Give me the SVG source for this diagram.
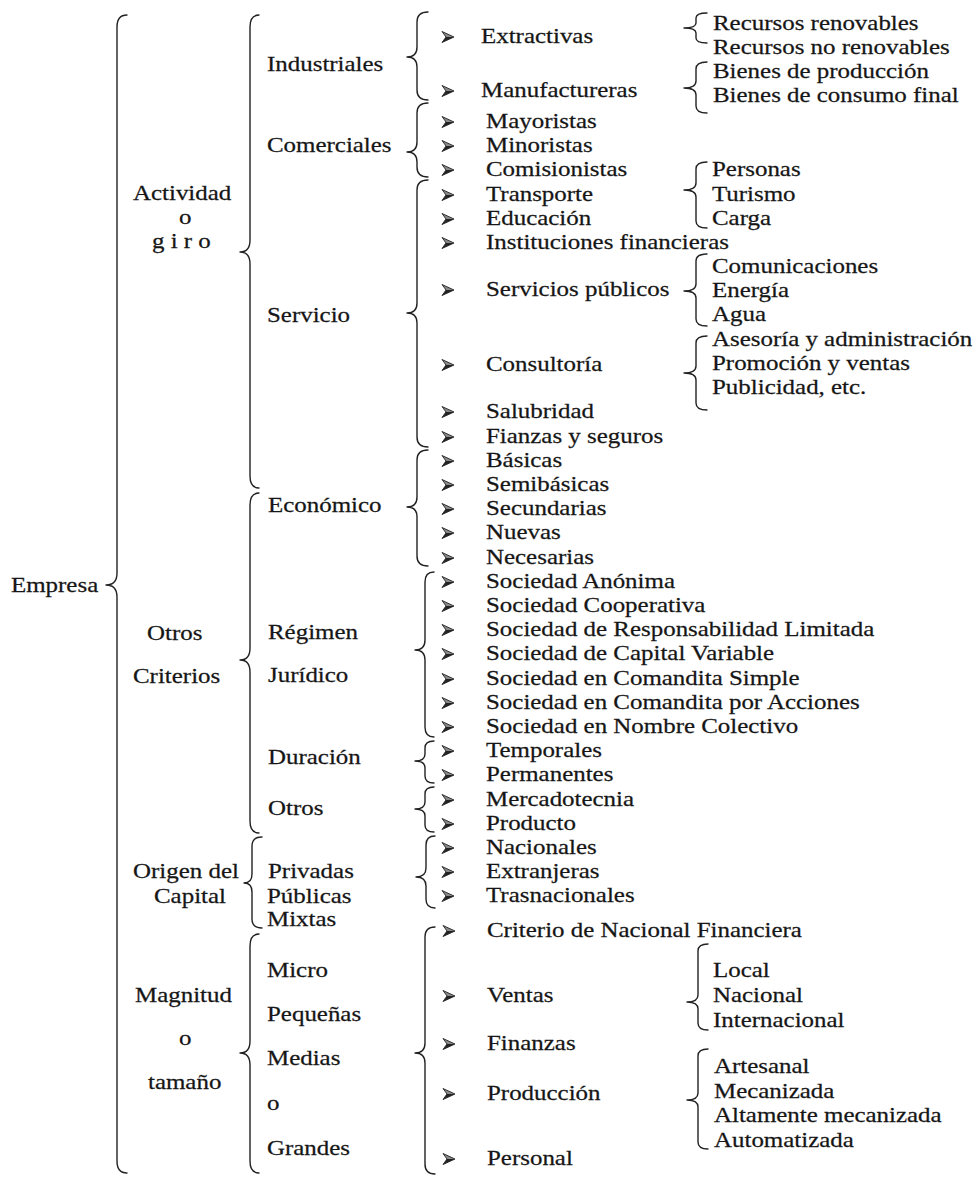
<svg xmlns="http://www.w3.org/2000/svg" xmlns:xlink="http://www.w3.org/1999/xlink" width="979" height="1177" viewBox="0 0 979 1177">
  <style>
    text { font-family: "Liberation Serif", "Times New Roman", serif; font-size: 21.5px; fill: #161616; stroke: #161616; stroke-width: 0.25; }
    .brace { fill: none; stroke: #222; stroke-width: 1.4; stroke-linecap: round; stroke-linejoin: round; }
    .bul-dark { fill: #222; }
    .bul-light { fill: #8a8a8a; }
  </style>
  <defs>
    <!-- three-dimensional arrowhead bullet used in front of list items -->
    <g id="bul">
      <path class="bul-light" d="M0 -5.5 L12 0 L4 0 Z"/>
      <path class="bul-dark" d="M0 5.5 L12 0 L4 0 Z"/>
      <path fill="none" stroke="#222" stroke-width="0.9" stroke-linejoin="round" d="M0 -5.5 L12 0 L0 5.5 L4 0 Z"/>
    </g>
  </defs>
  <rect width="979" height="1177" fill="#ffffff"/>

  <!-- curly braces joining each level to the next -->
  <g id="braces">
    <path class="brace" d="M127 15 Q117 15 117 27 L117 573 Q117 585 106 585 Q117 585 117 597 L117 1161 Q117 1173 127 1173"/>
    <path class="brace" d="M259 15 Q250 15 250 27 L250 240 Q250 252 240 252 Q250 252 250 264 L250 476 Q250 488 259 488"/>
    <path class="brace" d="M259 493 Q250 493 250 505 L250 648 Q250 660 240 660 Q250 660 250 672 L250 821 Q250 833 259 833"/>
    <path class="brace" d="M262 837 Q252 837 252 846 L252 874 Q252 883 244 883 Q252 883 252 892 L252 919 Q252 928 262 928"/>
    <path class="brace" d="M259 934 Q250 934 250 946 L250 1041 Q250 1053 240 1053 Q250 1053 250 1065 L250 1161 Q250 1173 259 1173"/>

    <path class="brace" d="M428 12 Q417 12 417 22 L417 47 Q417 57 407 57 Q417 57 417 67 L417 90 Q417 100 428 100"/>
    <path class="brace" d="M428 103 Q417 103 417 113 L417 142 Q417 152 407 152 Q417 152 417 162 L417 167 Q417 177 428 177"/>
    <path class="brace" d="M428 180 Q417 180 417 190 L417 303 Q417 313 407 313 Q417 313 417 323 L417 437 Q417 447 428 447"/>
    <path class="brace" d="M428 450 Q417 450 417 460 L417 497 Q417 507 407 507 Q417 507 417 517 L417 556 Q417 566 428 566"/>
    <path class="brace" d="M434 572 Q425 572 425 582 L425 640 Q425 650 415 650 Q425 650 425 660 L425 727 Q425 737 434 737"/>
    <path class="brace" d="M434 741 Q425 741 425 748 L425 754 Q425 761 415 761 Q425 761 425 768 L425 776 Q425 783 434 783"/>
    <path class="brace" d="M434 787 Q425 787 425 794 L425 802 Q425 809 415 809 Q425 809 425 816 L425 825 Q425 832 434 832"/>
    <path class="brace" d="M435 836 Q426 836 426 845 L426 868 Q426 877 416 877 Q426 877 426 886 L426 899 Q426 908 435 908"/>
    <path class="brace" d="M435 927 Q425 927 425 937 L425 1043 Q425 1053 415 1053 Q425 1053 425 1063 L425 1164 Q425 1174 435 1174"/>

    <path class="brace" d="M707 13 Q696 13 696 18 L696 23 Q696 28 684 28 Q696 28 696 33 L696 38 Q696 43 707 43"/>
    <path class="brace" d="M707 62 Q696 62 696 69 L696 81 Q696 88 684 88 Q696 88 696 95 L696 106 Q696 113 707 113"/>
    <path class="brace" d="M707 162 Q696 162 696 169 L696 183 Q696 190 684 190 Q696 190 696 197 L696 221 Q696 228 707 228"/>
    <path class="brace" d="M707 254 Q696 254 696 261 L696 284 Q696 291 684 291 Q696 291 696 298 L696 319 Q696 326 707 326"/>
    <path class="brace" d="M707 336 Q696 336 696 343 L696 366 Q696 373 684 373 Q696 373 696 380 L696 403 Q696 410 707 410"/>
    <path class="brace" d="M708 944 Q698 944 698 951 L698 995 Q698 1002 687 1002 Q698 1002 698 1009 L698 1023 Q698 1030 708 1030"/>
    <path class="brace" d="M708 1049 Q698 1049 698 1056 L698 1093 Q698 1100 687 1100 Q698 1100 698 1107 L698 1142 Q698 1149 708 1149"/>
  </g>

  <!-- root -->
  <g id="n-empresa"><text transform="translate(11 592) scale(1.16 1)">Empresa</text></g>

  <!-- first level -->
  <g id="n-actividad">
    <text transform="translate(133 200) scale(1.16 1)">Actividad</text>
    <text transform="translate(179 224) scale(1.16 1)">o</text>
    <text transform="translate(152 248) scale(1.16 1)">g i r o</text>
  </g>
  <g id="n-otros-criterios">
    <text transform="translate(147 640) scale(1.16 1)">Otros</text>
    <text transform="translate(133 683) scale(1.16 1)">Criterios</text>
  </g>
  <g id="n-origen">
    <text transform="translate(133 878) scale(1.16 1)">Origen del</text>
    <text transform="translate(154 903) scale(1.16 1)">Capital</text>
  </g>
  <g id="n-magnitud">
    <text transform="translate(135 1002) scale(1.16 1)">Magnitud</text>
    <text transform="translate(179 1045) scale(1.16 1)">o</text>
    <text transform="translate(148 1089) scale(1.16 1)">tamaño</text>
  </g>

  <!-- second level -->
  <g id="n-industriales"><text transform="translate(267 71) scale(1.16 1)">Industriales</text></g>
  <g id="n-comerciales"><text transform="translate(267 152) scale(1.16 1)">Comerciales</text></g>
  <g id="n-servicio"><text transform="translate(267 322) scale(1.16 1)">Servicio</text></g>
  <g id="n-economico"><text transform="translate(268 512) scale(1.16 1)">Económico</text></g>
  <g id="n-regimen">
    <text transform="translate(268 639) scale(1.16 1)">Régimen</text>
    <text transform="translate(268 682) scale(1.16 1)">Jurídico</text>
  </g>
  <g id="n-duracion"><text transform="translate(268 764) scale(1.16 1)">Duración</text></g>
  <g id="n-otros"><text transform="translate(268 815) scale(1.16 1)">Otros</text></g>
  <g id="n-privadas"><text transform="translate(268 878) scale(1.16 1)">Privadas</text></g>
  <g id="n-publicas"><text transform="translate(267 903) scale(1.16 1)">Públicas</text></g>
  <g id="n-mixtas"><text transform="translate(267 926) scale(1.16 1)">Mixtas</text></g>
  <g id="n-tamanos">
    <text transform="translate(267 977) scale(1.16 1)">Micro</text>
    <text transform="translate(267 1021) scale(1.16 1)">Pequeñas</text>
    <text transform="translate(267 1065) scale(1.16 1)">Medias</text>
    <text transform="translate(267 1110) scale(1.16 1)">o</text>
    <text transform="translate(267 1155) scale(1.16 1)">Grandes</text>
  </g>

  <!-- third level: bulleted items -->
  <g id="n-extractivas"><use href="#bul" x="442" y="37"/><text transform="translate(481 43) scale(1.16 1)">Extractivas</text></g>
  <g id="n-manufactureras"><use href="#bul" x="442" y="91"/><text transform="translate(481 97) scale(1.16 1)">Manufactureras</text></g>
  <g id="n-mayoristas"><use href="#bul" x="442" y="122"/><text transform="translate(486 128) scale(1.16 1)">Mayoristas</text></g>
  <g id="n-minoristas"><use href="#bul" x="442" y="146"/><text transform="translate(486 152) scale(1.16 1)">Minoristas</text></g>
  <g id="n-comisionistas"><use href="#bul" x="442" y="170"/><text transform="translate(486 176) scale(1.16 1)">Comisionistas</text></g>
  <g id="n-transporte"><use href="#bul" x="442" y="195"/><text transform="translate(486 201) scale(1.16 1)">Transporte</text></g>
  <g id="n-educacion"><use href="#bul" x="442" y="219"/><text transform="translate(486 225) scale(1.16 1)">Educación</text></g>
  <g id="n-instituciones"><use href="#bul" x="442" y="243"/><text transform="translate(486 249) scale(1.16 1)">Instituciones financieras</text></g>
  <g id="n-serv-publicos"><use href="#bul" x="442" y="290"/><text transform="translate(486 296) scale(1.16 1)">Servicios públicos</text></g>
  <g id="n-consultoria"><use href="#bul" x="442" y="365"/><text transform="translate(486 371) scale(1.16 1)">Consultoría</text></g>
  <g id="n-salubridad"><use href="#bul" x="442" y="412"/><text transform="translate(486 418) scale(1.16 1)">Salubridad</text></g>
  <g id="n-fianzas"><use href="#bul" x="442" y="437"/><text transform="translate(486 443) scale(1.16 1)">Fianzas y seguros</text></g>
  <g id="n-basicas"><use href="#bul" x="442" y="461"/><text transform="translate(486 467) scale(1.16 1)">Básicas</text></g>
  <g id="n-semibasicas"><use href="#bul" x="442" y="485"/><text transform="translate(486 491) scale(1.16 1)">Semibásicas</text></g>
  <g id="n-secundarias"><use href="#bul" x="442" y="509"/><text transform="translate(486 515) scale(1.16 1)">Secundarias</text></g>
  <g id="n-nuevas"><use href="#bul" x="442" y="533"/><text transform="translate(486 539) scale(1.16 1)">Nuevas</text></g>
  <g id="n-necesarias"><use href="#bul" x="442" y="558"/><text transform="translate(486 564) scale(1.16 1)">Necesarias</text></g>
  <g id="n-sa"><use href="#bul" x="442" y="582"/><text transform="translate(486 588) scale(1.16 1)">Sociedad Anónima</text></g>
  <g id="n-sc"><use href="#bul" x="442" y="606"/><text transform="translate(486 612) scale(1.16 1)">Sociedad Cooperativa</text></g>
  <g id="n-srl"><use href="#bul" x="442" y="630"/><text transform="translate(486 636) scale(1.16 1)">Sociedad de Responsabilidad Limitada</text></g>
  <g id="n-scv"><use href="#bul" x="442" y="654"/><text transform="translate(486 660) scale(1.16 1)">Sociedad de Capital Variable</text></g>
  <g id="n-scs"><use href="#bul" x="442" y="679"/><text transform="translate(486 685) scale(1.16 1)">Sociedad en Comandita Simple</text></g>
  <g id="n-sca"><use href="#bul" x="442" y="703"/><text transform="translate(486 709) scale(1.16 1)">Sociedad en Comandita por Acciones</text></g>
  <g id="n-snc"><use href="#bul" x="442" y="727"/><text transform="translate(486 733) scale(1.16 1)">Sociedad en Nombre Colectivo</text></g>
  <g id="n-temporales"><use href="#bul" x="442" y="751"/><text transform="translate(486 757) scale(1.16 1)">Temporales</text></g>
  <g id="n-permanentes"><use href="#bul" x="442" y="775"/><text transform="translate(486 781) scale(1.16 1)">Permanentes</text></g>
  <g id="n-mercadotecnia"><use href="#bul" x="442" y="800"/><text transform="translate(486 806) scale(1.16 1)">Mercadotecnia</text></g>
  <g id="n-producto"><use href="#bul" x="442" y="824"/><text transform="translate(486 830) scale(1.16 1)">Producto</text></g>
  <g id="n-nacionales"><use href="#bul" x="442" y="848"/><text transform="translate(486 854) scale(1.16 1)">Nacionales</text></g>
  <g id="n-extranjeras"><use href="#bul" x="442" y="872"/><text transform="translate(486 878) scale(1.16 1)">Extranjeras</text></g>
  <g id="n-trasnacionales"><use href="#bul" x="442" y="896"/><text transform="translate(486 902) scale(1.16 1)">Trasnacionales</text></g>
  <g id="n-criterio-nafin"><use href="#bul" x="443" y="931"/><text transform="translate(487 937) scale(1.16 1)">Criterio de Nacional Financiera</text></g>
  <g id="n-ventas"><use href="#bul" x="443" y="996"/><text transform="translate(487 1002) scale(1.16 1)">Ventas</text></g>
  <g id="n-finanzas"><use href="#bul" x="443" y="1044"/><text transform="translate(487 1050) scale(1.16 1)">Finanzas</text></g>
  <g id="n-produccion"><use href="#bul" x="443" y="1094"/><text transform="translate(487 1100) scale(1.16 1)">Producción</text></g>
  <g id="n-personal"><use href="#bul" x="443" y="1159"/><text transform="translate(487 1165) scale(1.16 1)">Personal</text></g>

  <!-- fourth level -->
  <g id="n-recursos">
    <text transform="translate(713 30) scale(1.16 1)">Recursos renovables</text>
    <text transform="translate(713 54) scale(1.16 1)">Recursos no renovables</text>
  </g>
  <g id="n-bienes">
    <text transform="translate(713 78) scale(1.16 1)">Bienes de producción</text>
    <text transform="translate(713 102) scale(1.16 1)">Bienes de consumo final</text>
  </g>
  <g id="n-transporte-tipos">
    <text transform="translate(712 176) scale(1.16 1)">Personas</text>
    <text transform="translate(712 201) scale(1.16 1)">Turismo</text>
    <text transform="translate(712 225) scale(1.16 1)">Carga</text>
  </g>
  <g id="n-serv-publicos-tipos">
    <text transform="translate(712 273) scale(1.16 1)">Comunicaciones</text>
    <text transform="translate(712 297) scale(1.16 1)">Energía</text>
    <text transform="translate(712 321) scale(1.16 1)">Agua</text>
  </g>
  <g id="n-consultoria-tipos">
    <text transform="translate(712 346) scale(1.16 1)">Asesoría y administración</text>
    <text transform="translate(712 370) scale(1.16 1)">Promoción y ventas</text>
    <text transform="translate(712 394) scale(1.16 1)">Publicidad, etc.</text>
  </g>
  <g id="n-ventas-tipos">
    <text transform="translate(713 977) scale(1.16 1)">Local</text>
    <text transform="translate(713 1002) scale(1.16 1)">Nacional</text>
    <text transform="translate(713 1027) scale(1.16 1)">Internacional</text>
  </g>
  <g id="n-produccion-tipos">
    <text transform="translate(714 1073) scale(1.16 1)">Artesanal</text>
    <text transform="translate(714 1098) scale(1.16 1)">Mecanizada</text>
    <text transform="translate(714 1122) scale(1.16 1)">Altamente mecanizada</text>
    <text transform="translate(714 1147) scale(1.16 1)">Automatizada</text>
  </g>
</svg>
